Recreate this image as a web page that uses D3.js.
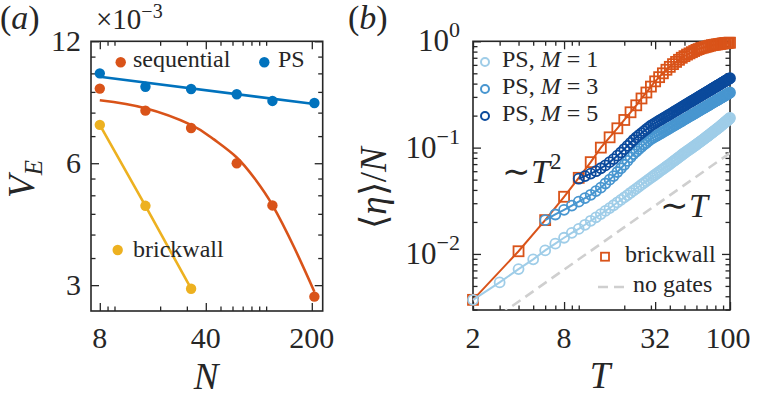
<!DOCTYPE html>
<html>
<head>
<meta charset="utf-8">
<script src="https://d3js.org/d3.v7.min.js"></script>
<style>
    body { margin: 0; background: #fff; }
    text, tspan { font-family: 'Liberation Serif', 'Times New Roman', Times, serif; fill: #262626; }
    .ax line { stroke: #262626; stroke-width: 1.3; }
    .ax .domain { stroke: none; }
</style>
</head>
<body>
<svg id="fig" width="757" height="400" font-family="Liberation Serif, Times New Roman, serif"></svg>
<script>
// ---------- panel (a): V_E vs N, values in units of 1e-3 ----------
const sizesN = [8, 16, 32, 64, 110, 208];
const psVE = [10.0, 9.27, 9.15, 8.88, 8.55, 8.45];
const seqVE = [9.17, 8.09, 7.33, 6.0, 4.72, 2.81];
const brickN = [8, 16, 32];
const brickVE = [7.46, 4.71, 2.94];
// fit curves
const psFitN = [8, 208];
const psFitVE = [9.81, 8.40];
const seqFitN = [8, 16, 32, 45, 64, 84, 110, 154, 208];
const seqFitVE = [8.58, 8.20, 7.46, 6.88, 6.20, 5.50, 4.73, 3.70, 2.89];

const xMajorA = [8, 40, 200];
const xMinorA = [9, 10, 20, 30, 50, 60, 70, 80, 90, 100];
const yMajorA = [3, 6, 12];
const yMinorA = [3.5, 4, 4.5, 5, 5.5, 7, 8, 9, 10, 11];

// ---------- panel (b): <eta>/N vs T ----------
const tM1 = d3.range(2, 101);
const etaM1 = [.0037, .0054, .0072, .0089, .0108, .0125, .0142, .0158, .0172,
    .0188, .0205, .0221, .0237, .0254, .027, .0287, .0305, .0322, .034,
    .0358, .0376, .0394, .0412, .043, .0448, .0466, .0484, .0502, .052,
    .0538, .0556, .0574, .0592, .061, .0628, .0646, .0664, .0682, .07,
    .0719, .0738, .0757, .0776, .0795, .0814, .0833, .0852, .0871, .089,
    .0908, .0926, .0944, .0962, .098, .0998, .1016, .1034, .1052, .107,
    .1089, .1108, .1127, .1146, .1165, .1184, .1203, .1222, .1241, .126,
    .128, .130, .132, .134, .136, .138, .140, .142, .144, .146,
    .148, .150, .152, .154, .156, .158, .161, .163, .165, .167,
    .169, .172, .174, .176, .178, .181, .183, .185, .188, .190];
const tM3 = d3.range(6, 101);
const etaM3 = [.0208, .0235, .026, .0285, .031,
    .0335, .036, .039, .042, .046, .050, .054, .059, .064, .069,
    .075, .081, .087, .092, .097, .102, .107, .111, .116, .120,
    .1233, .1267, .130, .1333, .1366, .1399, .1431, .1464, .1496, .1528,
    .156, .1592, .1624, .1655, .1687, .1718, .175, .1781, .1812, .1843,
    .1874, .1905, .1935, .1966, .1997, .2027, .2058, .2088, .2118, .2148,
    .2178, .2208, .2238, .2268, .2298, .2327, .2357, .2386, .2416, .2445,
    .2474, .2503, .2533, .2562, .2591, .262, .2649, .2678, .2707, .2735,
    .2764, .2792, .2821, .285, .2878, .2907, .2935, .2963, .2991, .302,
    .3048, .3076, .3104, .3132, .316, .3188, .3216, .3244, .3271, .330];
const tM5 = d3.range(10, 101);
const etaM5 = [.051,
    .054, .057, .060, .064, .068, .073, .078, .084, .090, .097,
    .104, .111, .118, .125, .131, .137, .143, .149, .155, .161,
    .1656, .1701, .1747, .1792, .1837, .1881, .1926, .197, .2014, .2058,
    .2102, .2146, .2189, .2233, .2276, .2319, .2362, .2405, .2448, .249,
    .2533, .2575, .2618, .266, .2702, .2744, .2785, .2827, .2869, .291,
    .2952, .2992, .3034, .3075, .3116, .3157, .3198, .3238, .3279, .3319,
    .336, .340, .3441, .3481, .3521, .3561, .3601, .3641, .3681, .372,
    .376, .380, .384, .3879, .3918, .3958, .3997, .4036, .4075, .4114,
    .4153, .4192, .4231, .427, .4309, .4348, .4386, .4425, .4463, .450];
const tBrick = d3.range(2, 101, 2);
const etaBrick = [.0037, .0106, .0208, .0345, .052, .073, .1, .125, .152, .182,
    .215, .25, .29, .33, .375, .42, .46, .5, .54, .575,
    .61, .64, .67, .7, .725, .75, .77, .79, .81, .83,
    .845, .86, .87, .88, .89, .9, .91, .92, .925, .93,
    .935, .94, .945, .95, .955, .96, .963, .966, .969, .97];
const noGatesT = [2, 100];
const noGatesEta = [0.00178, 0.089];

const xMajorB = [2, 8, 32, 100];
const xMinorB = [3, 4, 5, 6, 7, 9, 10, 20, 30, 40, 50, 60, 70, 80, 90];
const yMajorB = [0.01, 0.1, 1];
const yMinorB = [3, 4, 5, 6, 7, 8, 9].map(d => d / 1000)
    .concat([2, 3, 4, 5, 6, 7, 8, 9].map(d => d / 100))
    .concat([2, 3, 4, 5, 6, 7, 8, 9].map(d => d / 10));

const red = "#d95319", blue = "#0072bd", yellow = "#edb120";
const lightB = "#9fcde8", midB = "#4896d0", darkB = "#0b4a9c";
const serif = "Liberation Serif";

const svg = d3.select("#fig");
const zip = (xs, ys) => xs.map((x, i) => [x, ys[i]]);

// text helper so every label gets the serif face explicitly
function txt(g, x, y, size) {
    return g.append("text").attr("x", x).attr("y", y)
        .attr("font-size", size).attr("font-family", serif).attr("fill", "#262626");
}

// draws the box with inward ticks on all four sides
function drawFrame(g, x, y, xMaj, xMin, yMaj, yMin) {
    const [xl, xr] = x.range();
    const [yb, yt] = y.range();
    const sides = [
        [d3.axisBottom(x), `translate(0,${yb})`, xMaj, xMin],
        [d3.axisTop(x), `translate(0,${yt})`, xMaj, xMin],
        [d3.axisLeft(y), `translate(${xl},0)`, yMaj, yMin],
        [d3.axisRight(y), `translate(${xr},0)`, yMaj, yMin]
    ];
    sides.forEach(([axis, tr, maj, min]) => {
        g.append("g").attr("class", "ax").attr("transform", tr)
            .call(axis.tickValues(min).tickSize(-4.5).tickSizeOuter(0).tickFormat(""));
        g.append("g").attr("class", "ax").attr("transform", tr)
            .call(axis.tickValues(maj).tickSize(-8).tickSizeOuter(0).tickFormat(""));
    });
    g.append("rect")
        .attr("x", xl).attr("y", yt)
        .attr("width", xr - xl).attr("height", yb - yt)
        .attr("fill", "none").attr("stroke", "#262626").attr("stroke-width", 1.6);
}

// ===================== panel (a) =====================
const gA = svg.append("g");
const xA = d3.scaleLog().domain([7, 236]).range([91, 322.7]);
const yA = d3.scaleLog().domain([2.59, 12]).range([311, 41.3]);

drawFrame(gA, xA, yA, xMajorA, xMinorA, yMajorA, yMinorA);

const lineA = d3.line().x(d => xA(d[0])).y(d => yA(d[1]));

gA.append("path").attr("d", lineA(zip(psFitN, psFitVE)))
    .attr("fill", "none").attr("stroke", blue).attr("stroke-width", 2.6);
gA.append("path").attr("d", lineA.curve(d3.curveNatural)(zip(seqFitN, seqFitVE)))
    .attr("fill", "none").attr("stroke", red).attr("stroke-width", 2.6);
lineA.curve(d3.curveLinear);
gA.append("path").attr("d", lineA(zip(brickN, brickVE)))
    .attr("fill", "none").attr("stroke", yellow).attr("stroke-width", 2.6);

[[sizesN, psVE, blue], [sizesN, seqVE, red], [brickN, brickVE, yellow]].forEach(([xs, ys, c]) => {
    gA.selectAll(null).data(zip(xs, ys)).join("circle")
        .attr("cx", d => xA(d[0])).attr("cy", d => yA(d[1]))
        .attr("r", 5.2).attr("fill", c);
});

// tick labels
yMajorA.forEach(v => txt(gA, 81, yA(v) + 10, 30).attr("text-anchor", "end").text(v));
xMajorA.forEach(v => txt(gA, xA(v), 348, 30).attr("text-anchor", "middle").text(v));

// exponent
const expA = txt(gA, 96, 29, 29);
expA.append("tspan").text("×10");
expA.append("tspan").attr("dy", -11).attr("font-size", 20).text("−3");

// axis labels
txt(gA, 206, 389, 37).attr("text-anchor", "middle").attr("font-style", "italic").text("N");
const vLab = txt(gA, 0, 0, 37).attr("transform", "translate(34,179) rotate(-90)")
    .attr("text-anchor", "middle").attr("font-style", "italic");
vLab.append("tspan").text("V");
vLab.append("tspan").attr("dy", 8).attr("font-size", 25).text("E");

const labA = txt(gA, 0, 29, 34);
labA.append("tspan").text("(");
labA.append("tspan").attr("font-style", "italic").text("a");
labA.append("tspan").text(")");

// legend
[[120.7, 62.3, red, "sequential", 133, 67], [264.3, 62.3, blue, "PS", 278, 67],
 [117.7, 250, yellow, "brickwall", 133, 256.5]].forEach(([cx, cy, c, t, tx, ty]) => {
    gA.append("circle").attr("cx", cx).attr("cy", cy).attr("r", 5.2).attr("fill", c);
    txt(gA, tx, ty, 24).text(t);
});

// ===================== panel (b) =====================
const gB = svg.append("g");
const xB = d3.scaleLog().domain([2, 100]).range([473, 730]);
const yB = d3.scaleLog().domain([0.00297, 1]).range([310, 41.3]);

svg.append("defs").append("clipPath").attr("id", "clipB")
    .append("rect").attr("x", 473).attr("y", 41.3).attr("width", 257).attr("height", 268.7);

drawFrame(gB, xB, yB, xMajorB, xMinorB, yMajorB, yMinorB);

const lineB = d3.line().x(d => xB(d[0])).y(d => yB(d[1]));

gB.append("path").attr("d", lineB(zip(noGatesT, noGatesEta)))
    .attr("clip-path", "url(#clipB)")
    .attr("fill", "none").attr("stroke", "#cfcfcf").attr("stroke-width", 2.6)
    .attr("stroke-dasharray", "10,6");

// brickwall squares
gB.append("path").attr("d", lineB(zip(tBrick, etaBrick)))
    .attr("fill", "none").attr("stroke", red).attr("stroke-width", 2);
gB.selectAll(null).data(zip(tBrick, etaBrick)).join("rect")
    .attr("x", d => xB(d[0]) - 5).attr("y", d => yB(d[1]) - 5)
    .attr("width", 10).attr("height", 10)
    .attr("fill", "none").attr("stroke", red).attr("stroke-width", 1.8);

// PS series, open circles
[[tM1, etaM1, lightB], [tM3, etaM3, midB], [tM5, etaM5, darkB]].forEach(([ts, es, c]) => {
    gB.append("path").attr("d", lineB(zip(ts, es)))
        .attr("fill", "none").attr("stroke", c).attr("stroke-width", 2);
    gB.selectAll(null).data(zip(ts, es)).join("circle")
        .attr("cx", d => xB(d[0])).attr("cy", d => yB(d[1]))
        .attr("r", 5).attr("fill", "none").attr("stroke", c).attr("stroke-width", 1.8);
});

// tick labels
yMajorB.forEach((v, i) => {
    const t = txt(gB, 460, yB(v) + 10, 31).attr("text-anchor", "end");
    t.append("tspan").text("10");
    t.append("tspan").attr("dy", -14).attr("font-size", 22).text(["−2", "−1", "0"][i]);
});
xMajorB.forEach(v => txt(gB, xB(v) - (v === 100 ? 2 : 0), 348, 30)
    .attr("text-anchor", "middle").text(v));

// axis labels
txt(gB, 600, 388, 37).attr("text-anchor", "middle").attr("font-style", "italic").text("T");
const eLab = txt(gB, 0, 0, 37).attr("transform", "translate(386,188) rotate(-90)")
    .attr("text-anchor", "middle");
eLab.append("tspan").text("⟨");
eLab.append("tspan").attr("font-style", "italic").text("η");
eLab.append("tspan").text("⟩/");
eLab.append("tspan").attr("font-style", "italic").text("N");

const labB = txt(gB, 348, 29, 34);
labB.append("tspan").text("(");
labB.append("tspan").attr("font-style", "italic").text("b");
labB.append("tspan").text(")");

// scaling annotations
const sq = txt(gB, null, 183, 34);
sq.append("tspan").attr("x", 502).text("∼");
sq.append("tspan").attr("x", 531).attr("font-style", "italic").text("T");
sq.append("tspan").attr("dy", -14).attr("font-size", 23).text("2");
const lin = txt(gB, null, 216.7, 34);
lin.append("tspan").attr("x", 660).text("∼");
lin.append("tspan").attr("x", 689).attr("font-style", "italic").text("T");

// legend
[[62, lightB, "1"], [89, midB, "3"], [116, darkB, "5"]].forEach(([cy, c, m]) => {
    gB.append("circle").attr("cx", 485).attr("cy", cy).attr("r", 4)
        .attr("fill", "none").attr("stroke", c).attr("stroke-width", 2);
    const t = txt(gB, 502, cy + 5, 24);
    t.append("tspan").text("PS, ");
    t.append("tspan").attr("font-style", "italic").text("M");
    t.append("tspan").text("\u00a0=\u00a0" + m);
});
gB.append("rect").attr("x", 601).attr("y", 252.7).attr("width", 8).attr("height", 8)
    .attr("fill", "none").attr("stroke", red).attr("stroke-width", 1.8);
txt(gB, 625, 261.7, 24).text("brickwall");
gB.append("line").attr("x1", 598).attr("x2", 629).attr("y1", 287).attr("y2", 287)
    .attr("stroke", "#cfcfcf").attr("stroke-width", 2.6).attr("stroke-dasharray", "10,6");
txt(gB, 633, 291.7, 24).text("no gates");
</script>
</body>
</html>
